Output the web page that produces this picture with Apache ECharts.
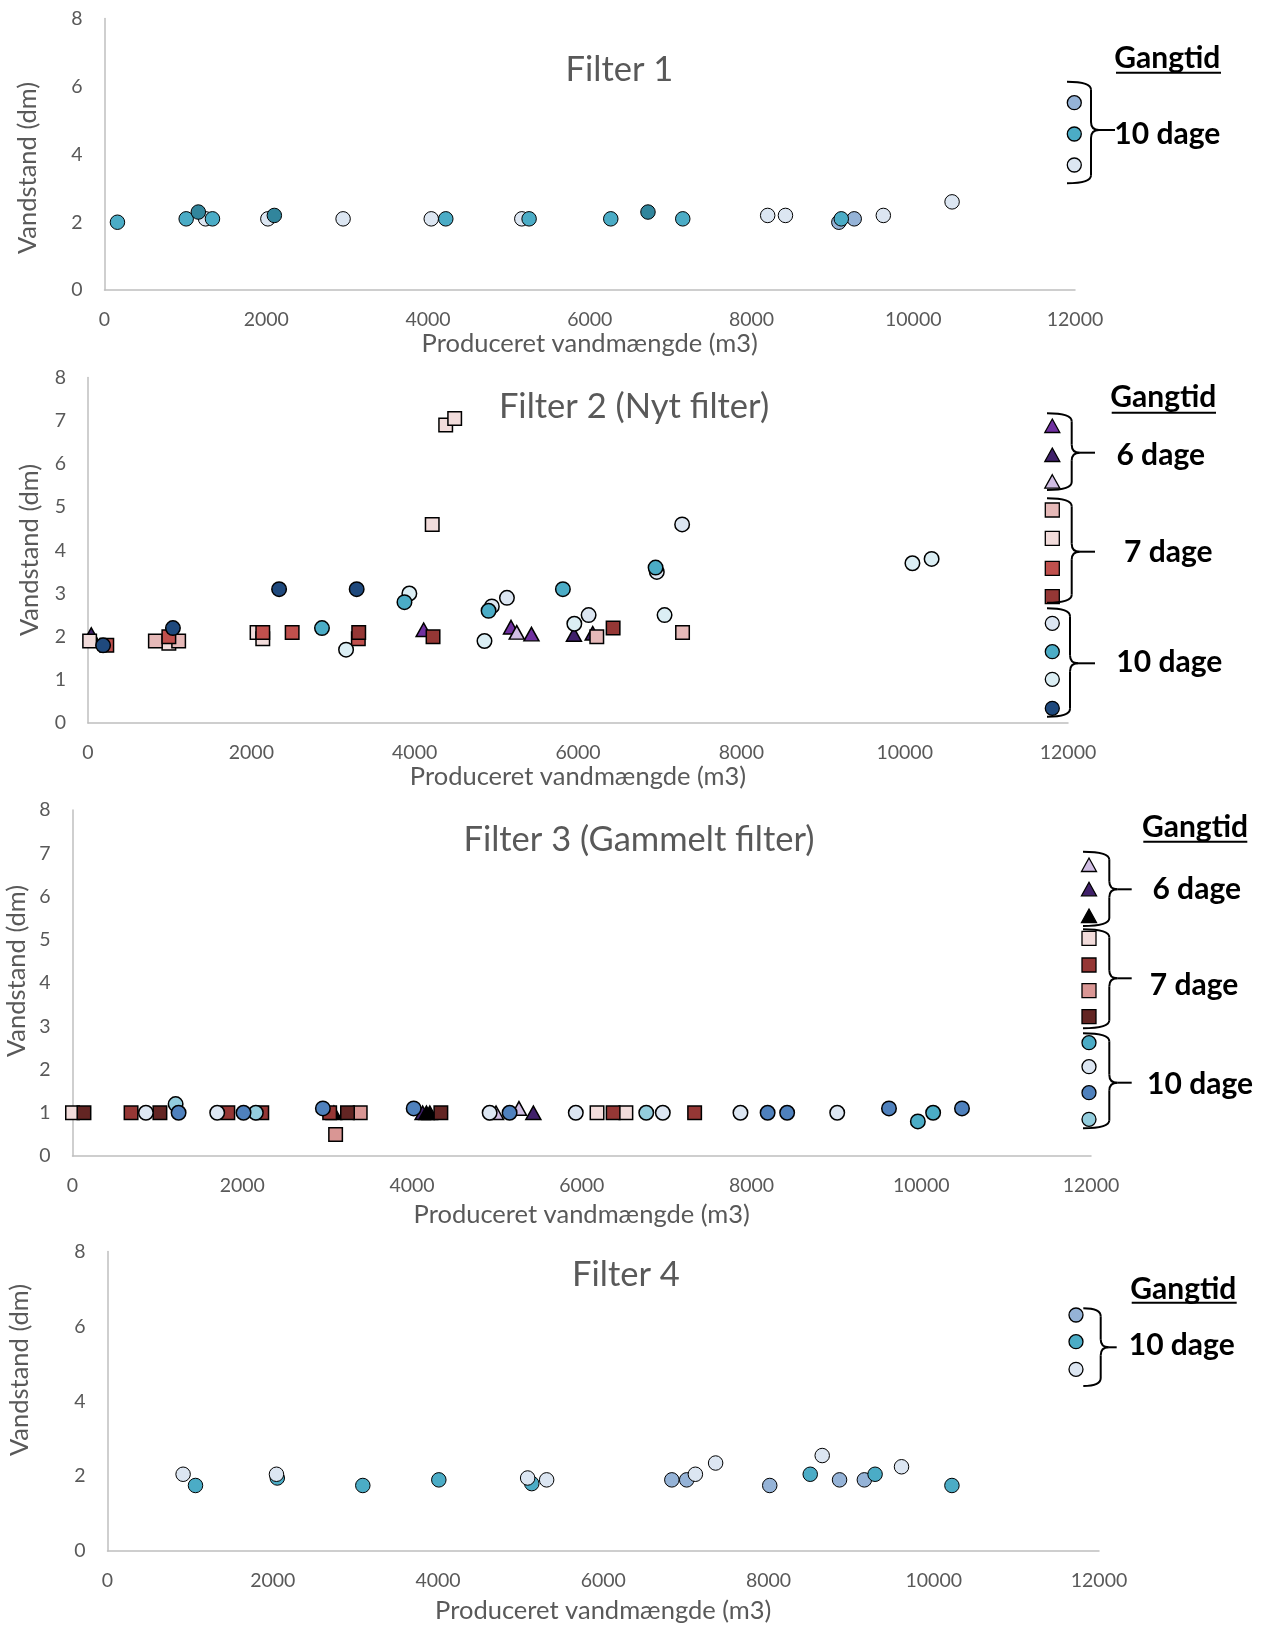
<!DOCTYPE html>
<html>
<head>
<meta charset="utf-8">
<script src="https://cdn.jsdelivr.net/npm/echarts@6/dist/echarts.min.js"></script>
<style>
html,body{margin:0;padding:0;background:#fff;}
#chart{width:1267px;height:1625px;}
</style>
</head>
<body>
<div id="chart"></div>
<script>
// ---------- DATA ----------
const panelTitles = ['Filter 1', 'Filter 2 (Nyt filter)', 'Filter 3 (Gammelt filter)', 'Filter 4'];
const xAxisTitle = 'Produceret vandmængde (m3)';
const yAxisTitle = 'Vandstand (dm)';
const legendTitle = 'Gangtid';
const groupLabels = ['6 dage', '7 dage', '10 dage'];

// Filter 1 (10 dage)
const p1Light = [[1250,2.1],[2020,2.1],[2950,2.1],[4040,2.1],[5160,2.1],[8200,2.2],[8420,2.2],[9630,2.2],[10480,2.6]];
const p1MidBlue = [[9080,2.0],[9270,2.1]];
const p1Teal = [[160,2.0],[1010,2.1],[1335,2.1],[4220,2.1],[5250,2.1],[6260,2.1],[7150,2.1],[9110,2.1]];
const p1DarkTeal = [[1160,2.3],[2100,2.2],[6720,2.3]];

// Filter 2
const p2Purple = [[4110,2.16],[5180,2.22],[5430,2.06]];
const p2DarkPurple = [[40,2.05],[5950,2.05],[6180,2.08]];
const p2Lavender = [[5250,2.1]];
const p2Pink = [[825,1.9],[1110,1.9],[6230,2.0],[7280,2.1]];
const p2LightPink = [[20,1.9],[990,1.85],[2070,2.1],[2140,1.95],[4215,4.6],[4380,6.9],[4490,7.05]];
const p2Red = [[230,1.8],[990,2.0],[2140,2.1],[2500,2.1],[3310,1.95]];
const p2DarkRed = [[3315,2.1],[4225,2.0],[6430,2.2]];
const p2LightGray = [[4945,2.7],[5130,2.9],[6130,2.5],[6965,3.5],[7275,4.6]];
const p2Teal = [[2865,2.2],[3875,2.8],[4905,2.6],[5815,3.1],[6950,3.6]];
const p2LightCyan = [[3160,1.7],[3935,3.0],[4855,1.9],[5955,2.3],[7060,2.5],[10095,3.7],[10330,3.8]];
const p2Navy = [[185,1.8],[1040,2.2],[2340,3.1],[3290,3.1]];

// Filter 3
const p3Lavender = [[4990,1.0],[5260,1.1]];
const p3DarkPurple = [[4125,1.0],[5430,1.0]];
const p3Black = [[3080,1.0],[4170,1.0],[4210,1.0]];
const p3LightPink = [[0,1.0],[6180,1.0],[6520,1.0]];
const p3DarkRed = [[690,1.0],[1830,1.0],[2230,1.0],[3030,1.0],[6370,1.0],[7330,1.0]];
const p3Salmon = [[3100,0.5],[3390,1.0]];
const p3VeryDarkRed = [[135,1.0],[1030,1.0],[3240,1.0],[4340,1.0]];
const p3Teal = [[9960,0.8],[10140,1.0]];
const p3LightGray = [[865,1.0],[1705,1.0],[4915,1.0],[5930,1.0],[6955,1.0],[7870,1.0],[9010,1.0]];
const p3Blue = [[1250,1.0],[2015,1.0],[2950,1.1],[4020,1.1],[5150,1.0],[8190,1.0],[8420,1.0],[9620,1.1],[10480,1.1]];
const p3LightCyan = [[1215,1.2],[2160,1.0],[6760,1.0]];

// Filter 4 (10 dage)
const p4MidBlue = [[6830,1.9],[7010,1.9],[8015,1.75],[8860,1.9],[9160,1.9]];
const p4Teal = [[1065,1.75],[2055,1.95],[3090,1.75],[4010,1.9],[5135,1.8],[8505,2.05],[9290,2.05],[10220,1.75]];
const p4Light = [[915,2.05],[2045,2.05],[5085,1.95],[5315,1.9],[7115,2.05],[7360,2.35],[8650,2.55],[9610,2.25]];

// ---------- STYLE ----------
const FONT = 'Lato, "Open Sans", sans-serif';
const GRAY = '#595959';
const AXIS = '#bfbfbf';
const C = {
  light:'#dce6f2', mid:'#95b3d7', teal:'#4bacc6', dteal:'#31859c', navy:'#1f497d', lcyan:'#dbeef4',
  blue:'#4f81bd', cyan2:'#93cddd', purple:'#7030a0', dpurple:'#40206a', lav:'#d0bde3', black:'#000000',
  pink:'#e6b9b8', lpink:'#f2dcdb', red:'#c0504d', dred:'#953735', salmon:'#d99694', vdred:'#632523'
};

const grids = [
  {left:104.5, top:18.6, width:970.5, height:271.5},
  {left:88, top:377.5, width:980, height:345.6},
  {left:72.5, top:810, width:1018.5, height:346},
  {left:107.5, top:1251.5, width:991.5, height:299.5}
];
const yIntervals = [2,1,1,2];
const nameGaps = [41,40,46,47];
const titlePos = [[619.5,69.4],[634,407],[639,840],[626,1275]];
const yTitlePos = [[28,168],[30,550],[16.6,971],[19.7,1370]];

function sc(name, data, gi, symbol, color, bw){
  let size = symbol === 'circle' ? 14.5 : (symbol === 'rect' ? 13.5 : [15,13.5]);
  return {type:'scatter', name, data, xAxisIndex:gi, yAxisIndex:gi, symbol, symbolSize:size,
    itemStyle:{color, borderColor:'#000', borderWidth:bw, opacity:1}, emphasis:{disabled:true}, silent:true};
}

const series = [
  sc('F1 light', p1Light, 0, 'circle', C.light, 1),
  sc('F1 mid', p1MidBlue, 0, 'circle', C.mid, 1),
  sc('F1 teal', p1Teal, 0, 'circle', C.teal, 1),
  sc('F1 dteal', p1DarkTeal, 0, 'circle', C.dteal, 1),

  sc('F2 purple', p2Purple, 1, 'triangle', C.purple, 1.5),
  sc('F2 dpurple', p2DarkPurple, 1, 'triangle', C.dpurple, 1.5),
  sc('F2 lav', p2Lavender, 1, 'triangle', C.lav, 1.5),
  sc('F2 lpink', p2LightPink, 1, 'rect', C.lpink, 1.5),
  sc('F2 pink', p2Pink, 1, 'rect', C.pink, 1.5),
  sc('F2 red', p2Red, 1, 'rect', C.red, 1.5),
  sc('F2 dred', p2DarkRed, 1, 'rect', C.dred, 1.5),
  sc('F2 lgray', p2LightGray, 1, 'circle', C.light, 1.5),
  sc('F2 lcyan', p2LightCyan, 1, 'circle', C.lcyan, 1.5),
  sc('F2 teal', p2Teal, 1, 'circle', C.teal, 1.5),
  sc('F2 navy', p2Navy, 1, 'circle', C.navy, 1.5),

  sc('F3 lav', p3Lavender, 2, 'triangle', C.lav, 1.5),
  sc('F3 dpurple', p3DarkPurple, 2, 'triangle', C.dpurple, 1.5),
  sc('F3 black', p3Black, 2, 'triangle', C.black, 1.5),
  sc('F3 lpink', p3LightPink, 2, 'rect', C.lpink, 1.5),
  sc('F3 dred', p3DarkRed, 2, 'rect', C.dred, 1.5),
  sc('F3 salmon', p3Salmon, 2, 'rect', C.salmon, 1.5),
  sc('F3 vdred', p3VeryDarkRed, 2, 'rect', C.vdred, 1.5),
  sc('F3 lgray', p3LightGray, 2, 'circle', C.light, 1.5),
  sc('F3 cyan', p3LightCyan, 2, 'circle', C.cyan2, 1.5),
  sc('F3 blue', p3Blue, 2, 'circle', C.blue, 1.5),
  sc('F3 teal', p3Teal, 2, 'circle', C.teal, 1.5),

  sc('F4 mid', p4MidBlue, 3, 'circle', C.mid, 1),
  sc('F4 teal', p4Teal, 3, 'circle', C.teal, 1),
  sc('F4 light', p4Light, 3, 'circle', C.light, 1)
];

// ---------- LEGEND GRAPHICS ----------
const G = [];
const LW = {stroke:'#000', lineWidth:2, fill:null};
function brace(xl, xv, xTip, yTop, yBot, yMid){
  const r = 8;
  G.push({type:'bezierCurve', shape:{x1:xl,y1:yTop,x2:xv,y2:yTop+r,cpx1:xv,cpy1:yTop}, style:LW});
  G.push({type:'line', shape:{x1:xv,y1:yTop+r,x2:xv,y2:yMid-r}, style:LW});
  G.push({type:'bezierCurve', shape:{x1:xv,y1:yMid-r,x2:xv+r,y2:yMid,cpx1:xv,cpy1:yMid}, style:LW});
  G.push({type:'line', shape:{x1:xv+r,y1:yMid,x2:xTip,y2:yMid}, style:LW});
  G.push({type:'bezierCurve', shape:{x1:xv+r,y1:yMid,x2:xv,y2:yMid+r,cpx1:xv,cpy1:yMid}, style:LW});
  G.push({type:'line', shape:{x1:xv,y1:yMid+r,x2:xv,y2:yBot-r}, style:LW});
  G.push({type:'bezierCurve', shape:{x1:xv,y1:yBot-r,x2:xl,y2:yBot,cpx1:xv,cpy1:yBot}, style:LW});
}
function txt(t, x, y, size, weight, color){
  G.push({type:'text', x, y, style:{text:t, fontSize:size, fontWeight:weight, fontFamily:FONT, fill:color,
    align:'center', verticalAlign:'middle', textAlign:'center', textVerticalAlign:'middle'}});
}
function header(x, y, x1, x2, yu){
  txt(legendTitle, x, y, 30, 'bold', '#000');
  G.push({type:'line', shape:{x1, y1:yu, x2, y2:yu}, style:{stroke:'#000', lineWidth:2}});
}
function mk(kind, cx, cy, color){
  const st = {fill:color, stroke:'#000', lineWidth:1.3};
  if (kind === 'c') G.push({type:'circle', shape:{cx, cy, r:7}, style:st});
  else if (kind === 's') G.push({type:'rect', shape:{x:cx-7, y:cy-7, width:14, height:14}, style:st});
  else G.push({type:'polygon', shape:{points:[[cx,cy-7],[cx+7.5,cy+6.5],[cx-7.5,cy+6.5]]}, style:st});
}

// Panel 1 legend
header(1167.3, 58, 1116, 1221, 72.7);
mk('c',1074.3,102.7,C.mid); mk('c',1074.3,134,C.teal); mk('c',1074.3,165,C.light);
brace(1067,1091,1115,81.7,183.3,130);
txt(groupLabels[2], 1167.3, 134, 30, 'bold', '#000');

// Panel 2 legend
header(1163.3, 397, 1111.7, 1216, 412.7);
mk('t',1052.3,426,C.purple); mk('t',1052.3,455,C.dpurple); mk('t',1052.3,481.7,C.lav);
mk('s',1052.3,510,C.pink); mk('s',1052.3,538.3,C.lpink); mk('s',1052.3,568.3,C.red); mk('s',1052.3,596.7,C.dred);
mk('c',1052.3,623.3,C.light); mk('c',1052.3,651.7,C.teal); mk('c',1052.3,679.3,C.lcyan); mk('c',1052.3,708.3,C.navy);
brace(1047,1071.7,1095,413.3,490,452.7);
brace(1047,1071.7,1095,498.3,602.7,551.7);
brace(1047,1070,1095,608.3,716.7,663.3);
txt(groupLabels[0], 1160.7, 455, 30, 'bold', '#000');
txt(groupLabels[1], 1168.3, 552, 30, 'bold', '#000');
txt(groupLabels[2], 1169.3, 662, 30, 'bold', '#000');

// Panel 3 legend
header(1195, 827, 1143.3, 1247.3, 841.7);
mk('t',1089,865,C.lav); mk('t',1089,889.3,C.dpurple); mk('t',1089,916,C.black);
mk('s',1089,938.3,C.lpink); mk('s',1089,965,C.dred); mk('s',1089,990.7,C.salmon); mk('s',1089,1016.7,C.vdred);
mk('c',1089,1042.7,C.teal); mk('c',1089,1066.7,C.light); mk('c',1089,1092.7,C.blue); mk('c',1089,1119.3,C.cyan2);
brace(1083,1109.3,1131.7,851.7,926,889.3);
brace(1083,1109.3,1131.7,929.3,1028.3,978.3);
brace(1083,1109.3,1131.7,1033.3,1128.3,1082.7);
txt(groupLabels[0], 1196.7, 889, 30, 'bold', '#000');
txt(groupLabels[1], 1194, 985, 30, 'bold', '#000');
txt(groupLabels[2], 1200, 1084, 30, 'bold', '#000');

// Panel 4 legend
header(1183.3, 1289, 1131.7, 1236.7, 1302.7);
mk('c',1076,1315,C.mid); mk('c',1076,1341.7,C.teal); mk('c',1076,1369.3,C.light);
brace(1083.3,1100.7,1116.7,1308.3,1386,1347.3);
txt(groupLabels[2], 1181.7, 1345, 30, 'bold', '#000');

// Y axis titles
yTitlePos.forEach(p => {
  G.push({type:'text', x:p[0], y:p[1], rotation:Math.PI/2, style:{text:yAxisTitle, fontSize:25.5, fontFamily:FONT, fill:GRAY,
    align:'center', verticalAlign:'middle', textAlign:'center', textVerticalAlign:'middle'}});
});

// ---------- OPTION ----------
const option = {
  animation:false,
  backgroundColor:'#fff',
  textStyle:{fontFamily:FONT},
  title: panelTitles.map((t,i) => ({text:t, left:titlePos[i][0], top:titlePos[i][1], textAlign:'center', textVerticalAlign:'middle',
    padding:0, textStyle:{fontSize:34.5, fontWeight:'normal', color:GRAY, fontFamily:FONT}})),
  grid: grids,
  xAxis: grids.map((g,i) => ({type:'value', gridIndex:i, min:0, max:12000, interval:2000,
    name:xAxisTitle, nameLocation:'middle', nameGap:nameGaps[i],
    nameTextStyle:{fontSize:25.5, color:GRAY, fontFamily:FONT},
    axisLine:{show:true, onZero:false, lineStyle:{color:AXIS, width:1.5}}, axisTick:{show:false},
    splitLine:{show:false}, axisLabel:{fontSize:19.5, color:GRAY, margin:20, fontFamily:FONT, formatter: v => String(v)}})),
  yAxis: grids.map((g,i) => ({type:'value', gridIndex:i, min:0, max:8, interval:yIntervals[i],
    axisLine:{show:true, lineStyle:{color:AXIS, width:1.5}}, axisTick:{show:false},
    splitLine:{show:false}, axisLabel:{fontSize:19.5, color:GRAY, margin:22, fontFamily:FONT}})),
  graphic: G,
  series
};

const chart = echarts.init(document.getElementById('chart'), null, {renderer:'canvas'});
chart.setOption(option);
</script>
</body>
</html>
